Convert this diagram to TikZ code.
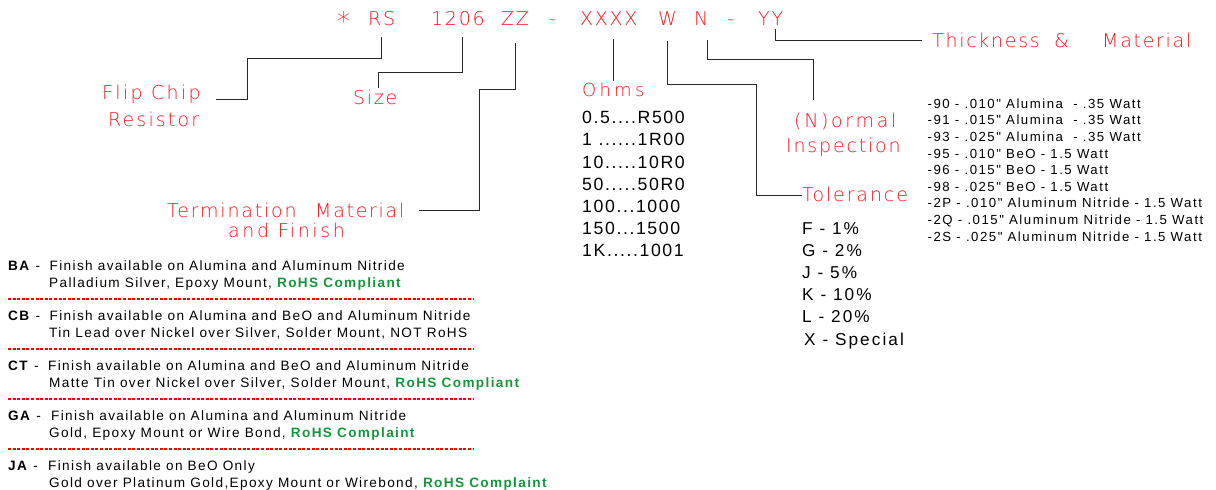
\documentclass[tikz,border=0pt]{standalone}
\usepackage{fontspec}
\setmainfont{Liberation Sans}
\newfontfamily\cadfont{DejaVu Sans ExtraLight}[LetterSpace=9]
\newfontfamily\listfont{Liberation Sans}[LetterSpace=10]
\newfontfamily\ohmfont{Liberation Sans}[LetterSpace=9]
\newfontfamily\tolfont{Liberation Sans}[LetterSpace=12]
\newfontfamily\thkfont{Liberation Sans}[LetterSpace=11.5]
\definecolor{cadred}{RGB}{250,22,32}
\definecolor{rohs}{RGB}{22,150,60}
\definecolor{conn}{RGB}{40,40,40}
\tikzset{
  cad/.style={text=cadred, font=\cadfont\fontsize{19}{22}\selectfont, inner sep=0pt, anchor=base west},
  cadls/.style={cad, font=\cadfont\fontsize{19}{22}\selectfont\addfontfeature{LetterSpace=#1}},
  codepart/.style={cad},
  lst/.style={text=black, font=\listfont\fontsize{13.6}{15}\selectfont, inner sep=0pt, anchor=base west},
  ohm/.style={text=black, font=\ohmfont\fontsize{17.7}{20}\selectfont, inner sep=0pt, anchor=base west},
  tol/.style={text=black, font=\tolfont\fontsize{17.2}{20}\selectfont, inner sep=0pt, anchor=base west},
  thk/.style={text=black, font=\thkfont\fontsize{13.2}{15}\selectfont, inner sep=0pt, anchor=base west},
  leader/.style={draw=conn, line width=0.9pt},
  sep/.style={draw=red, line width=1.3pt, dash pattern=on 3pt off 1.6pt}
}
\begin{document}
\begin{tikzpicture}[x=1pt,y=-1pt]
\useasboundingbox (0,0) rectangle (1216,490);
% ---- part number code ----
\node[codepart] (star) at (337,25.5) {\raisebox{-4.5pt}{\scalebox{1.35}{*}}};
\node[codepart] (rs) at (368,25.5) {RS};
\node[codepart] (size) at (431,25.5) {1206};
\node[codepart] (zz) at (501,25.5) {ZZ};
\node[codepart] (dashA) at (549,25.5) {-};
\node[codepart] (xxxx) at (580,25.5) {XXXX};
\node[codepart] (w) at (658,25.5) {W};
\node[codepart] (n) at (694,25.5) {N};
\node[codepart] (dashB) at (727,25.5) {-};
\node[codepart] (yy) at (758,25.5) {YY};
% ---- labels ----
\node[cadls=12.3] (flip) at (102,99) {Flip Chip};
\node[cadls=11.2] (resistor) at (108,126) {Resistor};
\node[cad] (sizelbl) at (353,104) {Size};
\node[cadls=9.5] (term) at (167,217) {Termination};
\node[cadls=9] (termb) at (315,217) {Material};
\node[cadls=13.7] (finish) at (228,237) {and Finish};
\node[cad, font=\cadfont\fontsize{18}{20}\selectfont\addfontfeature{LetterSpace=18}] (ohms) at (582,96) {Ohms};
\node[cadls=14] (normal) at (794,127) {(N)ormal};
\node[cadls=9.5] (insp) at (786,152) {Inspection};
\node[cadls=10] (tolerance) at (802,201) {Tolerance};
\node[cadls=9] (thick) at (932,47) {Thickness};
\node[cad] (amp) at (1054,47) {\&};
\node[cadls=9] (thickb) at (1102,47) {Material};
% ---- leader lines ----
\coordinate (rsT) at (381,37);
\coordinate (sizeT) at (462,37);
\coordinate (zzT) at (515,43);
\coordinate (xxT) at (613,39);
\coordinate (wT) at (667,41);
\coordinate (nT) at (707,40);
\coordinate (yyT) at (775,29);
\coordinate (flipE) at (216,99);
\coordinate (sizeE) at (378,88);
\coordinate (termE) at (419,210);
\coordinate (ohmsE) at (613,81);
\coordinate (tolE) at (802,195);
\coordinate (normE) at (813,100);
\coordinate (thickE) at (922,40);
\draw[leader] (rsT) -- ++(0,21) -| (247,99) -- (flipE);
\draw[leader] (sizeT) -- ++(0,35) -| (sizeE);
\draw[leader] (zzT) -- ++(0,46) -| (479,210) -- (termE);
\draw[leader] (xxT) -- (ohmsE);
\draw[leader] (wT) -- ++(0,43) -| (756,195) -- (tolE);
\draw[leader] (nT) -- ++(0,19) -| (normE);
\draw[leader] (yyT) |- (thickE);
% ---- ohms list ----
\node[ohm] (o1) at (582,123) {0.5....R500};
\node[ohm] (o2) at (582,145.5) {1 ......1R00};
\node[ohm] (o3) at (582,168) {10.....10R0};
\node[ohm] (o4) at (582,190) {50.....50R0};
\node[ohm] (o5) at (582,212.3) {100...1000};
\node[ohm] (o6) at (582,234.5) {150...1500};
\node[ohm] (o7) at (582,256.7) {1K.....1001};
% ---- tolerance list ----
\node[tol] (t1) at (802,234) {F - 1\%};
\node[tol] (t2) at (802,256) {G - 2\%};
\node[tol] (t3) at (802,278) {J - 5\%};
\node[tol] (t4) at (802,300) {K - 10\%};
\node[tol] (t5) at (802,322) {L - 20\%};
\node[tol] (t6) at (804,345) {X - Special};
% ---- thickness list ----
\node[thk] (k1) at (927.5,108.3) {-90 - .010" Alumina\ \ - .35 Watt};
\node[thk] (k2) at (927.5,124.9) {-91 - .015" Alumina\ \ - .35 Watt};
\node[thk] (k3) at (927.5,141.5) {-93 - .025" Alumina\ \ - .35 Watt};
\node[thk] (k4) at (927.5,158.1) {-95 - .010" BeO - 1.5 Watt};
\node[thk] (k5) at (927.5,174.7) {-96 - .015" BeO - 1.5 Watt};
\node[thk] (k6) at (927.5,191.3) {-98 - .025" BeO - 1.5 Watt};
\node[thk] (k7) at (927.5,207.9) {-2P - .010" Aluminum Nitride - 1.5 Watt};
\node[thk] (k8) at (927.5,224.5) {-2Q - .015" Aluminum Nitride - 1.5 Watt};
\node[thk] (k9) at (927.5,241) {-2S - .025" Aluminum Nitride - 1.5 Watt};
% ---- termination finishes ----
\node[lst] (baC) at (8,270) {\textbf{BA} -};
\node[lst] (ba1) at (49.5,270) {Finish available on Alumina and Aluminum Nitride};
\node[lst] (ba2) at (49,287) {Palladium Silver, Epoxy Mount, \textcolor{rohs}{\textbf{RoHS Compliant}}};
\coordinate (s1a) at (8,299); \coordinate (s1b) at (473,299);
\draw[sep] (s1a) -- (s1b);
\node[lst] (cbC) at (8,320) {\textbf{CB} -};
\node[lst] (cb1) at (49.5,320) {Finish available on Alumina and BeO and Aluminum Nitride};
\node[lst] (cb2) at (49,337) {Tin Lead over Nickel over Silver, Solder Mount, NOT RoHS};
\coordinate (s2a) at (8,349); \coordinate (s2b) at (473,349);
\draw[sep] (s2a) -- (s2b);
\node[lst] (ctC) at (8,370) {\textbf{CT} -};
\node[lst] (ct1) at (48,370) {Finish available on Alumina and BeO and Aluminum Nitride};
\node[lst] (ct2) at (49,387) {Matte Tin over Nickel over Silver, Solder Mount, \textcolor{rohs}{\textbf{RoHS Compliant}}};
\coordinate (s3a) at (8,399); \coordinate (s3b) at (473,399);
\draw[sep] (s3a) -- (s3b);
\node[lst] (gaC) at (8,420) {\textbf{GA} -};
\node[lst] (ga1) at (51,420) {Finish available on Alumina and Aluminum Nitride};
\node[lst] (ga2) at (49,437) {Gold, Epoxy Mount or Wire Bond, \textcolor{rohs}{\textbf{RoHS Complaint}}};
\coordinate (s4a) at (8,449); \coordinate (s4b) at (473,449);
\draw[sep] (s4a) -- (s4b);
\node[lst] (jaC) at (8,470) {\textbf{JA} -};
\node[lst] (ja1) at (48,470) {Finish available on BeO Only};
\node[lst] (ja2) at (49,487) {Gold over Platinum Gold,Epoxy Mount or Wirebond, \textcolor{rohs}{\textbf{RoHS Complaint}}};
\end{tikzpicture}
\end{document}
